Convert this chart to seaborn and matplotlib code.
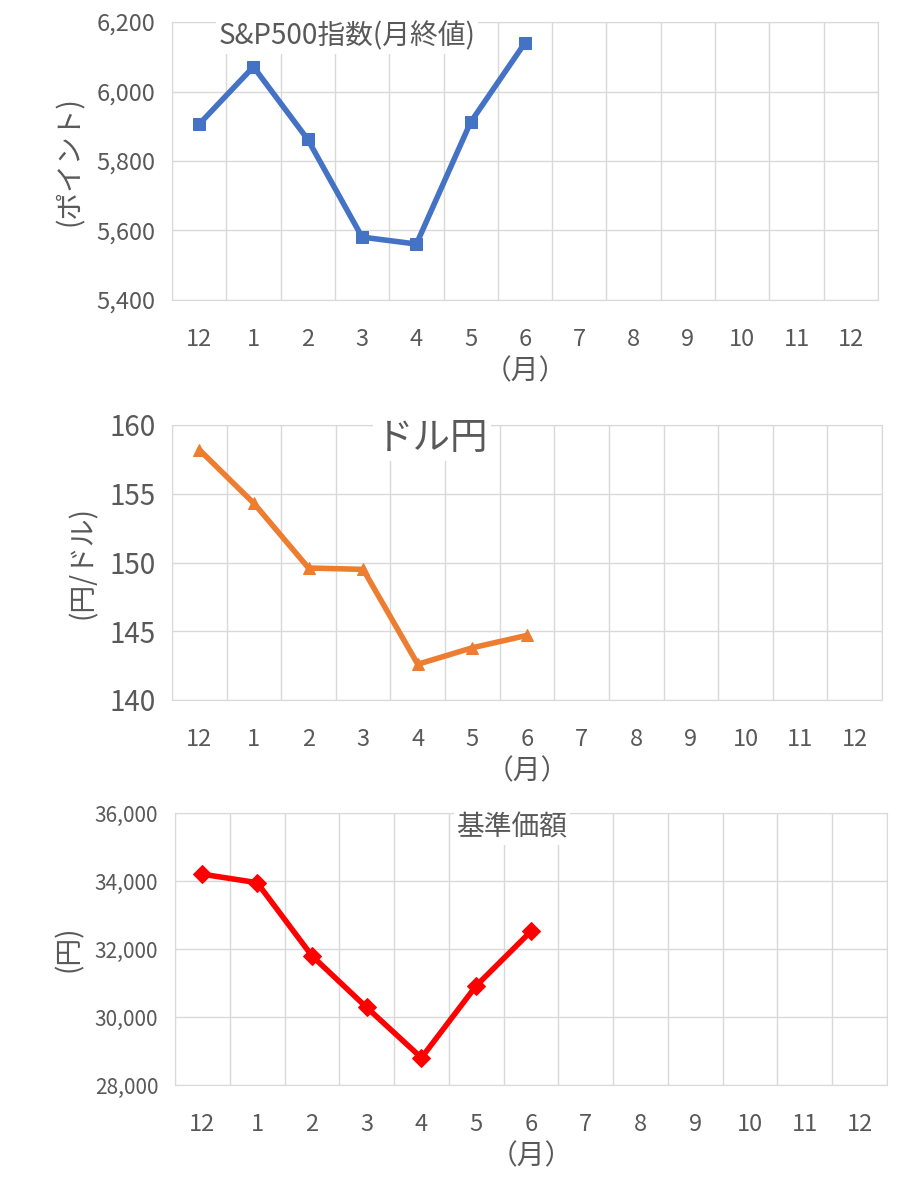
import matplotlib
matplotlib.use("Agg")
import matplotlib.pyplot as plt
import seaborn as sns
import numpy as np
import pandas as pd

months = ["12", "1", "2", "3", "4", "5", "6", "7", "8", "9", "10", "11", "12"]
sp500 = [5906, 6071, 5862, 5581, 5561, 5912, 6140]
usdjpy = [158.2, 154.3, 149.6, 149.5, 142.6, 143.8, 144.7]
nav = [34200, 33950, 31800, 30280, 28800, 30920, 32520]

sns.set_style("white")
plt.rcParams['font.family'] = ['Noto Sans CJK JP', 'DejaVu Sans']

W, H = 908, 1200
fig = plt.figure(figsize=(W / 100, H / 100), dpi=100)

panels = [
    # values, color, marker, ylim, step, fmt, ylabel, title, title_x, title_size, tick_size, rect(px)
    (sp500, "#4472C4", "s", (5400, 6200), 200, "{:,.0f}", "(ポイント)", "S&P500指数(月終値)", 347, 20, 17, (172, 22, 878, 300)),
    (usdjpy, "#ED7D31", "^", (140, 160), 5, "{:.0f}", "(円/ドル)", "ドル円", 432, 27, 20, (172, 425, 882, 700)),
    (nav, "#FF0000", "D", (28000, 36000), 2000, "{:,.0f}", "(円)", "基準価額", 512, 20, 15, (175, 813, 887, 1085)),
]

for vals, color, marker, ylim, step, fmt, ylabel, title, tx, tsize, ksize, (x0, y0, x1, y1) in panels:
    ax = fig.add_axes([x0 / W, 1 - y1 / H, (x1 - x0) / W, (y1 - y0) / H])
    df = pd.DataFrame({"x": np.arange(len(vals)), "y": vals})
    sns.lineplot(data=df, x="x", y="y", ax=ax, color=color, lw=4, marker=marker,
                 markersize=9, markeredgecolor=color)
    ax.set_xlim(-0.5, len(months) - 0.5)
    ax.set_ylim(*ylim)
    ax.set_xticks(np.arange(len(months)))
    ax.set_xticklabels(months, fontsize=17, color="#595959")
    ax.set_xticks(np.arange(len(months) + 1) - 0.5, minor=True)
    yt = np.arange(ylim[0], ylim[1] + step, step)
    ax.set_yticks(yt)
    ax.set_yticklabels([fmt.format(v) for v in yt], fontsize=ksize, color="#595959")
    ax.tick_params(which="both", length=0)
    ax.tick_params(axis="x", pad=20)
    ax.tick_params(axis="y", pad=12)
    ax.grid(True, which="major", axis="y", color="#D9D9D9", lw=1)
    ax.grid(True, which="minor", axis="x", color="#D9D9D9", lw=1)
    for s in ax.spines.values():
        s.set_color("#D9D9D9")
    ax.set_xlabel("（月）", fontsize=20, color="#595959", labelpad=4)
    ax.set_ylabel(ylabel, fontsize=20, color="#595959", labelpad=8)
    fig.text(tx / W, 1 - (y0 + 14) / H, title, fontsize=tsize, color="#595959",
             ha="center", va="center",
             bbox=dict(facecolor="white", edgecolor="none", pad=2))

fig.savefig("out.png", dpi=100)
